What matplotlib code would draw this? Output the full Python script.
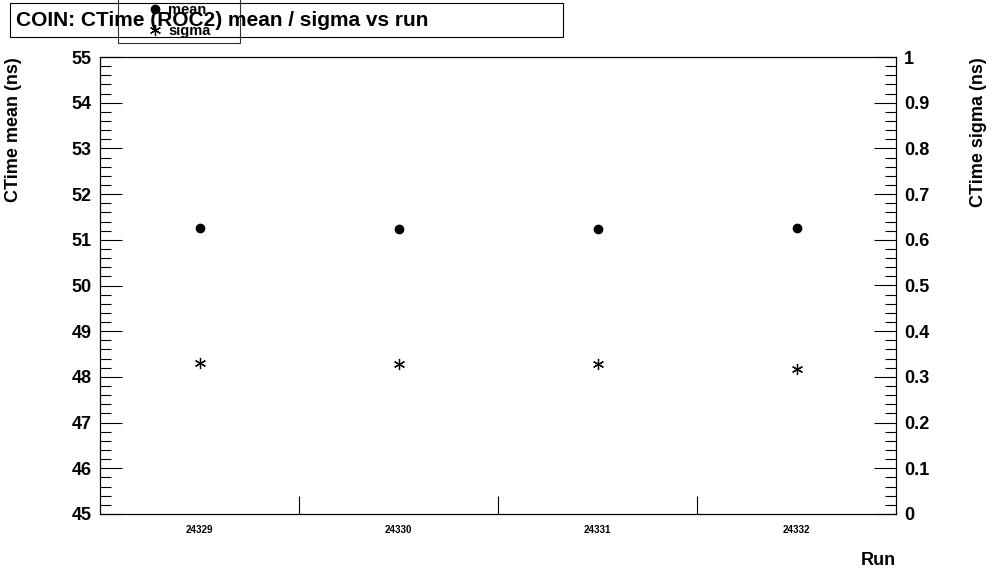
import matplotlib
matplotlib.use("Agg")
import matplotlib.pyplot as plt
from matplotlib.ticker import MultipleLocator, FixedLocator, FuncFormatter

plt.rcParams['font.family'] = ['Liberation Sans', 'DejaVu Sans']
plt.rcParams['font.weight'] = 'bold'

runs = ["24329", "24330", "24331", "24332"]
mean_vals = [51.26, 51.23, 51.23, 51.26]
sigma_vals = [0.330, 0.329, 0.329, 0.318]

fig = plt.figure(figsize=(9.96, 5.72), dpi=100)
ax = fig.add_axes([100/996, 58/572, 796/996, 457/572])
ax2 = ax.twinx()

x = [i + 0.5 for i in range(len(runs))]
ax.plot(x, mean_vals, 'o', color='black', ms=6, label='mean')
ax2.plot(x, sigma_vals, marker=(6, 2, 0), ls='none', color='black', ms=8, mew=0.9, label='sigma')

ax.set_xlim(0, len(runs))
ax.set_ylim(45, 55)
ax2.set_ylim(0, 1)

ax.xaxis.set_major_locator(FixedLocator(x))
ax.set_xticklabels(runs, fontsize=7, fontweight='bold')
ax.xaxis.set_minor_locator(FixedLocator(range(1, len(runs))))
ax.tick_params(axis='x', which='major', length=0, pad=8)
ax.tick_params(axis='x', which='minor', direction='in', length=13, width=0.8)

ax.yaxis.set_major_locator(MultipleLocator(1))
ax.yaxis.set_minor_locator(MultipleLocator(0.2))
ax.tick_params(axis='y', which='major', direction='in', length=16, width=0.8, labelsize=13, pad=6)
ax.tick_params(axis='y', which='minor', direction='in', length=8, width=0.8)

ax2.yaxis.set_major_locator(MultipleLocator(0.1))
ax2.yaxis.set_minor_locator(MultipleLocator(0.02))
ax2.tick_params(axis='y', which='major', direction='in', length=16, width=0.8, labelsize=13, pad=6)
ax2.tick_params(axis='y', which='minor', direction='in', length=8, width=0.8)
ax2.yaxis.set_major_formatter(FuncFormatter(lambda v, p: f"{v:g}"))

ax.set_ylabel("CTime mean (ns)", fontsize=13, fontweight='bold', loc='top')
ax.yaxis.set_label_coords(-0.098, 1.0)
ax2.set_ylabel("CTime sigma (ns)", fontsize=13, fontweight='bold', loc='top')
ax2.yaxis.set_label_coords(1.093, 1.0)
ax.set_xlabel("Run", fontsize=13, fontweight='bold', loc='right', labelpad=12)

for a in (ax, ax2):
    for s in a.spines.values():
        s.set_linewidth(0.8)

h1, l1 = ax.get_legend_handles_labels()
h2, l2 = ax2.get_legend_handles_labels()
leg = ax2.legend(h1 + h2, l1 + l2, loc='upper left', bbox_to_anchor=(18/796, 1.027),
                 fontsize=10.5, frameon=True, fancybox=False, edgecolor='black',
                 handletextpad=0.4, borderpad=0.35, labelspacing=0.45, handlelength=1.0,
                 borderaxespad=0)
leg.get_frame().set_linewidth(0.8)
for t in leg.get_texts():
    t.set_fontweight('bold')
leg.set_bbox_to_anchor((18/796, 1 + 12/457, 122/796, 47/457), transform=ax2.transAxes)
leg._loc = 2
leg._mode = 'expand'

fig.text(16/996, 1 - 20/572, "COIN: CTime (ROC2) mean / sigma vs run",
         fontsize=15, fontweight='bold', va='center', ha='left')
fig.patches.append(plt.Rectangle((10/996, 1 - 37/572), 553/996, 34/572,
                                 transform=fig.transFigure, fill=False, ec='black', lw=0.8))

fig.savefig("out.png", dpi=100)
